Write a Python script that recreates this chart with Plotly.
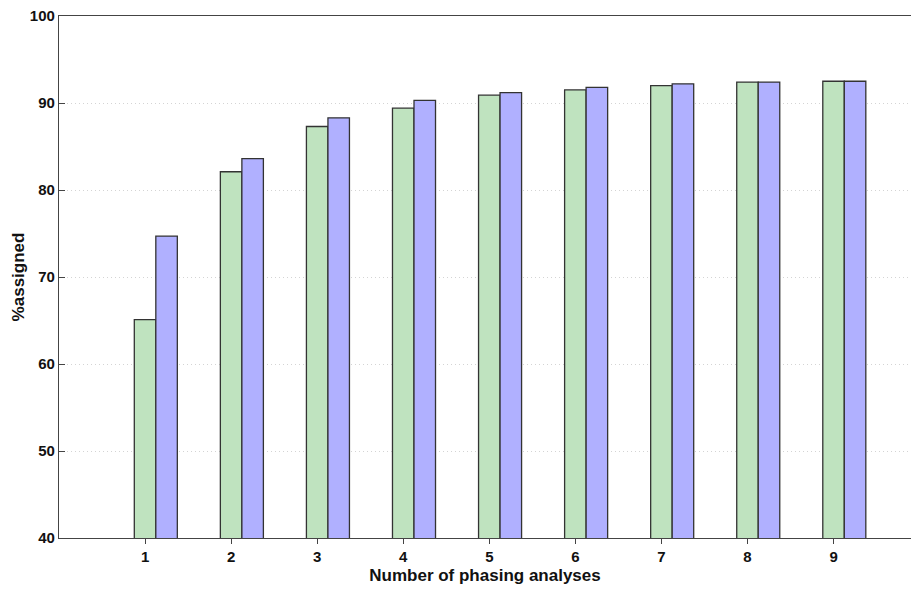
import plotly.graph_objects as go

categories = [1, 2, 3, 4, 5, 6, 7, 8, 9]
series_a = [65.1, 82.1, 87.3, 89.4, 90.9, 91.5, 92.0, 92.4, 92.5]
series_b = [74.7, 83.6, 88.3, 90.3, 91.2, 91.8, 92.2, 92.4, 92.5]
y_ticks = [40, 50, 60, 70, 80, 90, 100]

fig = go.Figure()
fig.add_trace(go.Bar(x=categories, y=series_a, base=0, width=0.25, offset=-0.125,
                     marker=dict(color="#bfe3bf", line=dict(color="#333333", width=1.3)),
                     showlegend=False))
fig.add_trace(go.Bar(x=categories, y=series_b, base=0, width=0.25, offset=0.125,
                     marker=dict(color="#b0b0ff", line=dict(color="#333333", width=1.3)),
                     showlegend=False))

fig.update_layout(
    width=911, height=589,
    margin=dict(l=59, r=0, t=16, b=51, autoexpand=False),
    barmode="overlay",
    plot_bgcolor="white", paper_bgcolor="white",
    font=dict(family="Liberation Sans, Arial, sans-serif", color="#111111"),
    xaxis=dict(
        range=[0, 9.9], tickmode="array", tickvals=categories,
        ticktext=[f"<b>{c}</b>" for c in categories],
        ticks="outside", ticklen=5, tickcolor="#444444",
        showline=True, linecolor="#444444", linewidth=1.3, mirror=True,
        showgrid=False, zeroline=False, automargin=False,
        tickfont=dict(size=15),
        title=dict(text="<b>Number of phasing analyses</b>", font=dict(size=17), standoff=4),
    ),
    yaxis=dict(
        range=[40, 100], tickmode="array", tickvals=y_ticks,
        ticktext=[f"<b>{v}</b>" for v in y_ticks],
        ticks="inside", ticklen=6, tickcolor="#444444",
        showline=True, linecolor="#444444", linewidth=1.3,
        showgrid=True, gridcolor="#d4d4d4", griddash="1px,3px", gridwidth=1,
        zeroline=False, automargin=False,
        tickfont=dict(size=15),
        title=dict(text="<b>%assigned</b>", font=dict(size=17), standoff=0),
    ),
)

fig.write_html("out.html", config={"displayModeBar": False},
               post_script="document.body.style.margin='0';document.body.style.padding='0';")
